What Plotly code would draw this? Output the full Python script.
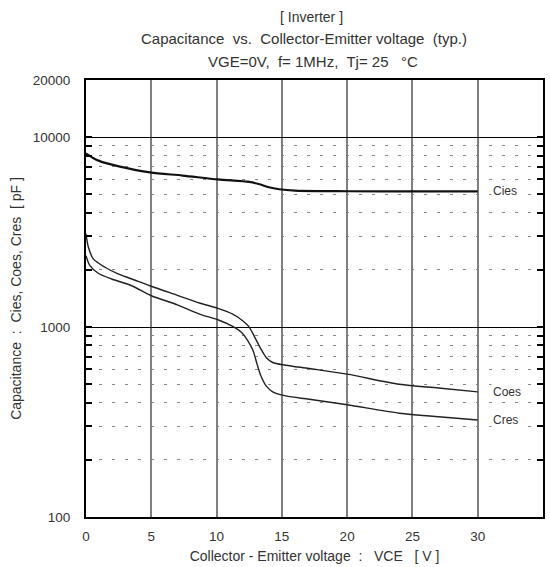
import math
import plotly.graph_objects as go

# Capacitance vs collector-emitter voltage, VGE=0V, f=1MHz, Tj=25 C
vce_cies = [0, 0.5, 1, 2.6, 4.9, 7.4, 10.1, 12.5, 13.3, 14.0, 14.8, 16, 18, 20, 25, 30]
cies = [8200, 7800, 7500, 7000, 6520, 6280, 5990, 5810, 5650, 5450, 5320, 5230, 5200, 5190, 5180, 5180]

vce_coes = [0, 0.18, 0.56, 1.45, 2.46, 4.0, 5, 7, 8.7, 10.1, 11.24, 12.0, 12.5, 13.0, 13.4, 13.8,
            14.3, 15.3, 17.1, 20, 24, 27, 30]
coes = [3100, 2640, 2285, 2066, 1905, 1742, 1640, 1470, 1339, 1255, 1171, 1080, 1000, 864, 766, 692,
        651, 630, 605, 565, 500, 478, 456]

vce_cres = [0, 0.3, 0.94, 1.96, 3.5, 5, 7, 8.7, 10.1, 11.24, 11.9, 12.4, 12.8, 13.1, 13.4, 13.8,
            14.3, 15.3, 17.1, 20, 24, 27, 30]
cres = [2375, 2105, 1920, 1791, 1651, 1462, 1310, 1171, 1093, 1008, 938, 847, 750, 638, 553, 490,
        456, 434, 417, 390, 352, 337, 324]

x_ticks = [0, 5, 10, 15, 20, 25, 30, 35]
y_ticks = [100, 1000, 10000, 20000]
y_minor = [200, 300, 400, 500, 600, 700, 800, 900, 2000, 3000, 4000, 5000, 6000, 7000, 8000, 9000]

FONT = "Liberation Sans"
TXT = "#333333"

fig = go.Figure()
fig.add_trace(go.Scatter(x=vce_cies, y=cies, mode="lines",
                         line=dict(color="#111111", width=2.2, shape="spline", smoothing=0.8), name="Cies"))
fig.add_trace(go.Scatter(x=vce_coes, y=coes, mode="lines",
                         line=dict(color="#222222", width=1.4, shape="spline", smoothing=0.8), name="Coes"))
fig.add_trace(go.Scatter(x=vce_cres, y=cres, mode="lines",
                         line=dict(color="#222222", width=1.4, shape="spline", smoothing=0.8), name="Cres"))

# curve labels at the right end (annotation y on a log axis is given in log10 units)
for lbl, yv in [("Cies", cies[-1]), ("Coes", coes[-1]), ("Cres", cres[-1])]:
    fig.add_annotation(x=31.0, y=math.log10(yv), text=lbl, showarrow=False, xanchor="left", yanchor="middle",
                       font=dict(family=FONT, size=12, color=TXT), bgcolor="white")

# three-line heading above the plot: (text, centre x px, centre y px, size)
titles = [("[ Inverter ]", 312, 17, 14),
          ("Capacitance  vs.  Collector-Emitter voltage  (typ.)", 305, 38, 15),
          ("VGE=0V,  f= 1MHz,  Tj= 25   \u00b0C", 314, 61, 15)]
for t, xpx, ypx, sz in titles:
    fig.add_annotation(xref="paper", yref="paper", x=(xpx - 86) / (545 - 86), y=1 + (80 - ypx) / (517 - 80),
                       text=t, showarrow=False, xanchor="center", yanchor="middle",
                       font=dict(family=FONT, size=sz, color=TXT))

fig.update_layout(
    width=550, height=567,
    margin=dict(l=86, r=5, t=80, b=50),
    paper_bgcolor="white", plot_bgcolor="white",
    showlegend=False,
    font=dict(family=FONT, size=13.5, color=TXT),
    xaxis=dict(
        range=[0, 35], tickvals=x_ticks, ticktext=[str(v) for v in x_ticks],
        showgrid=True, gridcolor="#808080", gridwidth=1.5,
        showline=True, linecolor="black", linewidth=2, mirror=True,
        ticks="", zeroline=False, ticklabelstandoff=6,
        title=dict(text="Collector - Emitter voltage  :   VCE   [ V ]", standoff=8,
                   font=dict(family=FONT, size=14, color=TXT)),
        tickfont=dict(family=FONT, size=13.5, color=TXT),
    ),
    yaxis=dict(
        type="log", range=[2, 4.30103],
        tickvals=y_ticks, ticktext=[str(v) for v in y_ticks],
        showgrid=True, gridcolor="#000000", gridwidth=1.2,
        showline=True, linecolor="black", linewidth=2, mirror="allticks",
        ticks="inside", ticklen=6, tickcolor="black", tickwidth=2,
        ticklabelstandoff=11,
        minor=dict(tickvals=y_minor, ticks="inside", ticklen=6, tickcolor="black", tickwidth=2,
                   showgrid=True, gridcolor="#888888", griddash="3px,10px", gridwidth=1),
        zeroline=False,
        title=dict(text="Capacitance  :  Cies, Coes, Cres  [ pF ]", standoff=8,
                   font=dict(family=FONT, size=14, color=TXT)),
        tickfont=dict(family=FONT, size=13.5, color=TXT),
    ),
)

fig.write_html("out.html")
